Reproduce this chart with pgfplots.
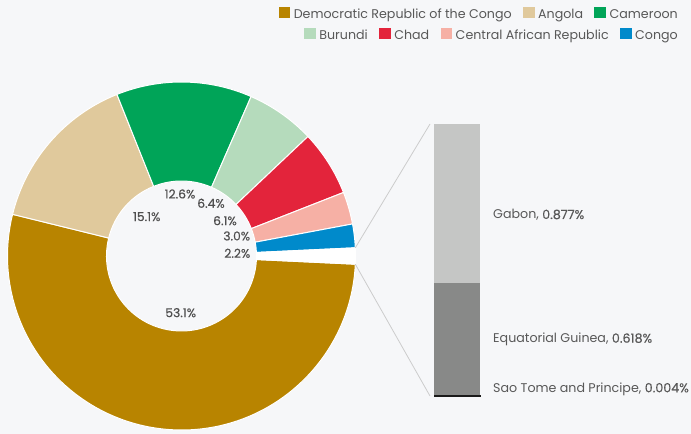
\documentclass[border=0pt]{standalone}
\usepackage{pgfplots}
\usepackage{pgfplotstable}
\pgfplotsset{compat=1.18}
\usetikzlibrary{calc}
\usepackage{fontspec}
\setmainfont{Poppins}
\newfontfamily\medfont[FakeBold=0.3]{Poppins}

\definecolor{bg}{HTML}{F6F7F9}
\definecolor{cdrc}{HTML}{B88400}
\definecolor{cang}{HTML}{E0C99C}
\definecolor{ccam}{HTML}{00A458}
\definecolor{cbur}{HTML}{B5DBBC}
\definecolor{ccha}{HTML}{E3243B}
\definecolor{ccar}{HTML}{F6B0A5}
\definecolor{ccon}{HTML}{008ACB}
\definecolor{cgab}{HTML}{C5C6C5}
\definecolor{ceqg}{HTML}{888988}
\definecolor{csao}{HTML}{1A1A1A}
\definecolor{txt}{HTML}{585858}
\definecolor{lbl}{HTML}{4F4F4F}

\pgfplotstableread{
country value color
DRC 53.1 cdrc
Angola 15.1 cang
Cameroon 12.6 ccam
Burundi 6.4 cbur
Chad 6.1 ccha
CAR 3.0 ccar
Congo 2.2 ccon
Other 1.499 white
}\piedata

\newcommand\lsq[1]{\textcolor{#1}{\rule[0.5bp]{11.5bp}{10.5bp}}\hspace{3.6bp}}
\newcommand\legfont{\fontsize{12.7}{14}\selectfont}
\newcommand\lblfont{\fontsize{12.3}{14}\selectfont\medfont}

% total and angles computed from the table
\def\tot{0}
\pgfplotsforeachungrouped \i in {0,...,7}{%
  \pgfplotstablegetelem{\i}{value}\of\piedata
  \pgfmathsetmacro\tot{\tot+\pgfplotsretval}%
}
\pgfplotstablegetelem{7}{value}\of\piedata
\pgfmathsetmacro\startang{-\pgfplotsretval/\tot*180}
\def\cum{0}
\pgfplotsforeachungrouped \i in {0,...,7}{%
  \pgfplotstablegetelem{\i}{value}\of\piedata
  \let\v\pgfplotsretval
  \pgfmathsetmacro\a{\startang-\cum/\tot*360}%
  \pgfmathsetmacro\cum{\cum+\v}%
  \pgfmathsetmacro\b{\startang-\cum/\tot*360}%
  \expandafter\xdef\csname sa\i\endcsname{\a}%
  \expandafter\xdef\csname ea\i\endcsname{\b}%
  \pgfplotstablegetelem{\i}{color}\of\piedata
  \expandafter\xdef\csname col\i\endcsname{\pgfplotsretval}%
}

\begin{document}%
\begin{tikzpicture}
\begin{axis}[name=main, at={(0,0)}, anchor=south west,
  width=691bp, height=434bp, scale only axis,
  xmin=0, xmax=691, ymin=0, ymax=434, hide axis, clip=false]
  \fill[bg] (axis cs:0,0) rectangle (axis cs:691,434);
  \pgfplotsforeachungrouped \i in {0,...,7}{%
    \edef\sa{\csname sa\i\endcsname}%
    \edef\ea{\csname ea\i\endcsname}%
    \edef\col{\csname col\i\endcsname}%
    \edef\temp{\noexpand\fill[\col, draw=white, line width=1bp, line join=round]
      ($(axis cs:181.5,178)+(\sa:174bp)$) arc[start angle=\sa, end angle=\ea, radius=174bp]
      -- ($(axis cs:181.5,178)+(\ea:75bp)$) arc[start angle=\ea, end angle=\sa, radius=75bp] -- cycle;}%
    \temp
  }
  % connectors from the "other" slice to the bar
  \edef\temp{\noexpand\draw[gray!40, line width=0.8bp]
     ($(axis cs:181.5,178)+(\csname sa7\endcsname:174bp)$) -- (axis cs:430,310);
     \noexpand\draw[gray!40, line width=0.8bp]
     ($(axis cs:181.5,178)+(\csname ea7\endcsname:174bp)$) -- (axis cs:430,38);}
  \temp
  % data labels
  \begin{scope}[every node/.style={text=lbl, font=\lblfont, inner sep=0pt}]
  \node at (axis cs:180.7,121.3) {53.1\%};
  \node at (axis cs:146.7,217.3) {15.1\%};
  \node at (axis cs:180,240) {12.6\%};
  \node at (axis cs:211,230.7) {6.4\%};
  \node at (axis cs:225,213.3) {6.1\%};
  \node at (axis cs:236.7,198) {3.0\%};
  \node at (axis cs:237.3,180.7) {2.2\%};
  \end{scope}
  % bar labels
  \begin{scope}[every node/.style={text=txt, font=\legfont, inner sep=0pt, anchor=base west}]
  \node at (axis cs:493,215) {Gabon, {\medfont 0.877\%}};
  \node at (axis cs:493,91.3) {Equatorial Guinea, {\medfont 0.618\%}};
  \node at (axis cs:493,41.7) {Sao Tome and Principe, {\medfont 0.004\%}};
  \end{scope}
  % legend
  \begin{scope}[every node/.style={text=txt, font=\legfont, inner sep=0pt, anchor=base east}]
  \node at (axis cs:678,415.7) {\lsq{cdrc}Democratic Republic of the Congo\hspace{11.4bp}\lsq{cang}Angola\hspace{11.4bp}\lsq{ccam}Cameroon};
  \node at (axis cs:678,394.7) {\lsq{cbur}Burundi\hspace{11.4bp}\lsq{ccha}Chad\hspace{11.4bp}\lsq{ccar}Central African Republic\hspace{11.4bp}\lsq{ccon}Congo};
  \end{scope}
\end{axis}
\begin{axis}[at={(434bp,38bp)}, anchor=south west,
  width=46bp, height=272bp, scale only axis,
  xmin=0, xmax=1, ymin=0, ymax=1.499, hide axis, clip=false,
  ybar stacked, bar width=46bp]
  \addplot[fill=csao, draw=csao, line width=0.6bp] coordinates {(0.5,0.004)};
  \addplot[fill=ceqg, draw=none] coordinates {(0.5,0.618)};
  \addplot[fill=cgab, draw=none] coordinates {(0.5,0.877)};
\end{axis}
\pgfresetboundingbox
\path (0,0) rectangle (691bp,434bp);
\end{tikzpicture}%
\end{document}
